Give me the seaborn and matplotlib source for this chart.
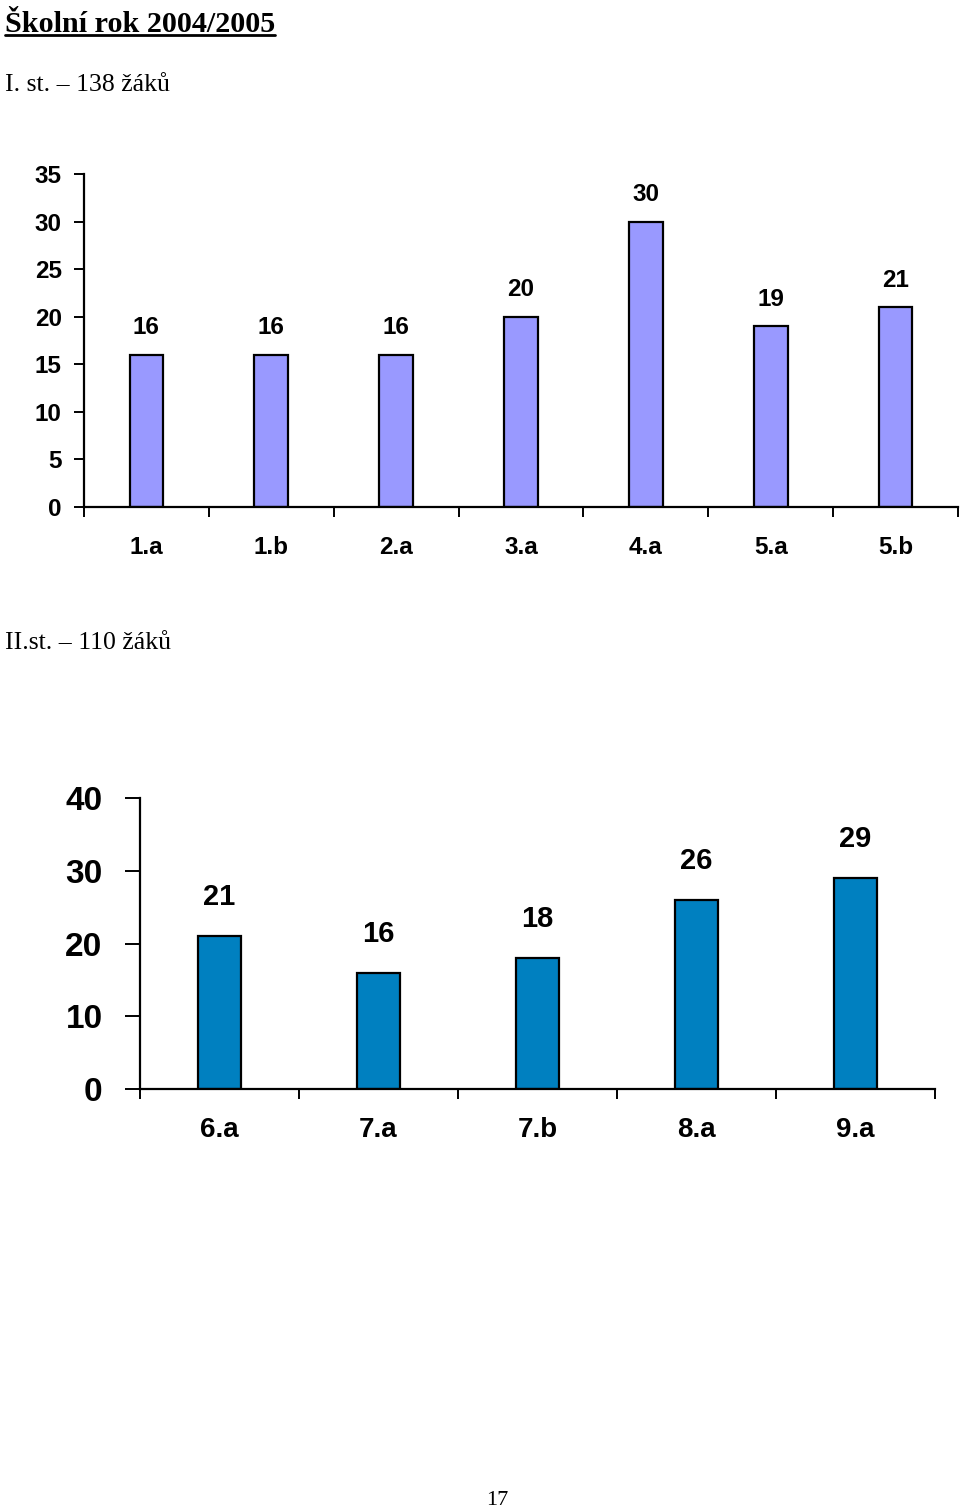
import matplotlib
matplotlib.use("Agg")
import matplotlib.pyplot as plt
from matplotlib.lines import Line2D
import seaborn as sns
import pandas as pd

# ---- data ----
classes_1 = ["1.a", "1.b", "2.a", "3.a", "4.a", "5.a", "5.b"]
pupils_1 = [16, 16, 16, 20, 30, 19, 21]
yticks_1 = [0, 5, 10, 15, 20, 25, 30, 35]

classes_2 = ["6.a", "7.a", "7.b", "8.a", "9.a"]
pupils_2 = [21, 16, 18, 26, 29]
yticks_2 = [0, 10, 20, 30, 40]

title = "Školní rok 2004/2005"
label_1 = "I. st. – 138 žáků"
label_2 = "II.st. – 110 žáků"
page_no = "17"

sns.set_theme(style="ticks")
plt.rcParams["font.family"] = ["Liberation Sans", "DejaVu Sans"]
plt.rcParams["text.color"] = "black"
plt.rcParams["xtick.color"] = "black"
plt.rcParams["ytick.color"] = "black"
plt.rcParams["xtick.labelcolor"] = "black"
plt.rcParams["ytick.labelcolor"] = "black"

W, H = 960, 1507
fig = plt.figure(figsize=(W / 100, H / 100), dpi=100)
fig.patch.set_facecolor("white")

serif = ["Liberation Serif", "DejaVu Serif"]


def ax_rect(x0, x1, ytop, ybot):
    return [x0 / W, 1 - ybot / H, (x1 - x0) / W, (ybot - ytop) / H]


def draw_chart(ax, cats, vals, color, yticks, ymax, fs_y, fs_x, fs_lab,
               ytick_len, ypad, xpad, lab_pad):
    df = pd.DataFrame({"cls": cats, "n": vals})
    sns.barplot(data=df, x="cls", y="n", color=color, width=0.27,
                edgecolor="black", linewidth=1.6, saturation=1, ax=ax)
    n = len(cats)
    ax.set_xlim(-0.5, n - 0.5)
    ax.set_ylim(0, ymax)
    ax.set_xlabel("")
    ax.set_ylabel("")
    ax.set_facecolor("white")
    for s in ["top", "right"]:
        ax.spines[s].set_visible(False)
    for s in ["left", "bottom"]:
        ax.spines[s].set_color("black")
        ax.spines[s].set_linewidth(1.6)
    ax.set_yticks(yticks)
    ax.set_yticklabels([str(v) for v in yticks], fontsize=fs_y,
                       fontweight="bold", color="black")
    ax.tick_params(axis="y", length=ytick_len, width=1.4, color="black",
                   pad=ypad, direction="out")
    ax.set_xticks(range(n))
    ax.set_xticklabels(cats, fontsize=fs_x, fontweight="bold",
                       color="black")
    ax.tick_params(axis="x", which="major", length=0, pad=xpad)
    ax.set_xticks([i - 0.5 for i in range(n + 1)], minor=True)
    ax.tick_params(axis="x", which="minor", length=7, width=1.4,
                   color="black", direction="out")
    for c in ax.containers:
        ax.bar_label(c, fmt="%d", padding=lab_pad, fontsize=fs_lab,
                     fontweight="bold", color="black")


ax1 = fig.add_axes(ax_rect(84, 958, 174, 507))
draw_chart(ax1, classes_1, pupils_1, "#9999FF", yticks_1, 35,
           17.5, 17.5, 17.5, 7, 9, 21, 11)

ax2 = fig.add_axes(ax_rect(140, 935, 798, 1089))
draw_chart(ax2, classes_2, pupils_2, "#0080C0", yticks_2, 40,
           24, 20, 21, 11, 16, 20, 18)

# ---- texts ----
t = fig.text(5 / W, 1 - 32 / H, title, fontsize=21.7, fontweight="bold",
             family=serif, ha="left", va="baseline", color="black")
fig.text(5 / W, 1 - 91 / H, label_1, fontsize=18.5, family=serif,
         ha="left", va="baseline", color="black")
fig.text(5 / W, 1 - 649 / H, label_2, fontsize=18.5, family=serif,
         ha="left", va="baseline", color="black")
fig.text(497 / W, 1 - 1505 / H, page_no, fontsize=16, family=serif,
         ha="center", va="baseline", color="black")

# underline under title
fig.canvas.draw()
bb = t.get_window_extent(renderer=fig.canvas.get_renderer())
uy = 1 - 35 / H
fig.add_artist(Line2D([bb.x0 / W, bb.x1 / W], [uy, uy],
                      transform=fig.transFigure, color="black", lw=2))

fig.savefig("out.png", dpi=100, facecolor="white")
